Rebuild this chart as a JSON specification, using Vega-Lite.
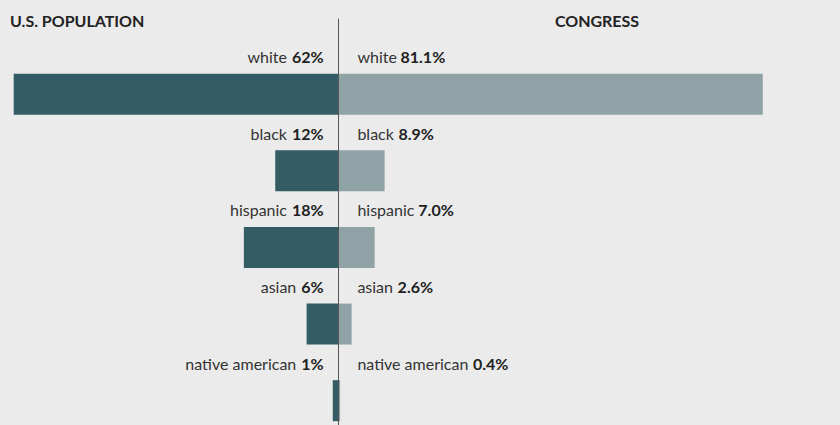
{
  "$schema": "https://vega.github.io/schema/vega-lite/v6.json",
  "background": "#ebebeb",
  "padding": {"top": 14, "left": 0, "right": 0, "bottom": 0},
  "spacing": 0,
  "bounds": "flush",
  "config": {
    "view": {"stroke": null},
    "font": "Lato",
    "title": {"font": "Lato", "fontSize": 16, "fontWeight": "bold", "color": "#222222", "baseline": "alphabetic", "offset": -12, "frame": "group"},
    "text": {"font": "Lato", "fontSize": 16, "baseline": "alphabetic", "color": "#333333"}
  },
  "data": {
    "values": [
      {"body": "U.S. population", "group": "white", "share": 0.62},
      {"body": "U.S. population", "group": "black", "share": 0.12},
      {"body": "U.S. population", "group": "hispanic", "share": 0.18},
      {"body": "U.S. population", "group": "asian", "share": 0.06},
      {"body": "U.S. population", "group": "native american", "share": 0.01},
      {"body": "Congress", "group": "white", "share": 0.811},
      {"body": "Congress", "group": "black", "share": 0.089},
      {"body": "Congress", "group": "hispanic", "share": 0.07},
      {"body": "Congress", "group": "asian", "share": 0.026},
      {"body": "Congress", "group": "native american", "share": 0.004}
    ]
  },
  "hconcat": [
    {
      "width": 338,
      "height": 408,
      "title": {"text": "U.S. POPULATION", "anchor": "start", "dx": 10},
      "transform": [{"filter": "datum.body === 'U.S. population'"}],
      "encoding": {
        "y": {
          "field": "group", "type": "nominal",
          "sort": ["white", "black", "hispanic", "asian", "native american"],
          "axis": null,
          "scale": {"paddingInner": 0.465, "paddingOuter": 0.3956, "align": 0.92}
        }
      },
      "layer": [
        {
          "mark": {"type": "bar", "color": "#335c64"},
          "encoding": {
            "x": {"field": "share", "type": "quantitative", "axis": null, "scale": {"domain": [0, 0.6462], "reverse": true, "nice": false, "zero": true}}
          }
        },
        {
          "mark": {"type": "text", "align": "right", "dx": -14.3, "dy": -31, "fontWeight": "bold", "color": "#222222"},
          "encoding": {
            "x": {"datum": 0, "type": "quantitative"},
            "text": {"field": "share", "type": "quantitative", "format": ".0%"}
          }
        },
        {
          "transform": [{"filter": "datum.share >= 0.1"}],
          "mark": {"type": "text", "align": "right", "dx": -51, "dy": -31},
          "encoding": {
            "x": {"datum": 0, "type": "quantitative"},
            "text": {"field": "group", "type": "nominal"}
          }
        },
        {
          "transform": [{"filter": "datum.share < 0.1"}],
          "mark": {"type": "text", "align": "right", "dx": -41.7, "dy": -31},
          "encoding": {
            "x": {"datum": 0, "type": "quantitative"},
            "text": {"field": "group", "type": "nominal"}
          }
        }
      ]
    },
    {
      "width": 502,
      "height": 408,
      "title": {"text": "CONGRESS", "anchor": "middle", "dx": 8},
      "transform": [{"filter": "datum.body === 'Congress'"}],
      "encoding": {
        "y": {
          "field": "group", "type": "nominal",
          "sort": ["white", "black", "hispanic", "asian", "native american"],
          "axis": {"labels": false, "ticks": false, "title": null, "grid": false, "domain": true, "domainColor": "#555555", "domainWidth": 1, "zindex": 1},
          "scale": {"paddingInner": 0.465, "paddingOuter": 0.3956, "align": 0.92}
        }
      },
      "layer": [
        {
          "mark": {"type": "bar", "color": "#8fa3a6"},
          "encoding": {
            "x": {"field": "share", "type": "quantitative", "axis": null, "scale": {"domain": [0, 0.9584], "nice": false, "zero": true}}
          }
        },
        {
          "mark": {"type": "text", "align": "left", "dx": 19.4, "dy": -31},
          "encoding": {
            "x": {"datum": 0, "type": "quantitative"},
            "text": {"field": "group", "type": "nominal"}
          }
        },
        {
          "transform": [{"filter": "datum.group === 'white'"}],
          "mark": {"type": "text", "align": "left", "dx": 62.5, "dy": -31, "fontWeight": "bold", "color": "#222222"},
          "encoding": {"x": {"datum": 0, "type": "quantitative"}, "text": {"field": "share", "type": "quantitative", "format": ".1%"}}
        },
        {
          "transform": [{"filter": "datum.group === 'black'"}],
          "mark": {"type": "text", "align": "left", "dx": 60.5, "dy": -31, "fontWeight": "bold", "color": "#222222"},
          "encoding": {"x": {"datum": 0, "type": "quantitative"}, "text": {"field": "share", "type": "quantitative", "format": ".1%"}}
        },
        {
          "transform": [{"filter": "datum.group === 'hispanic'"}],
          "mark": {"type": "text", "align": "left", "dx": 80.3, "dy": -31, "fontWeight": "bold", "color": "#222222"},
          "encoding": {"x": {"datum": 0, "type": "quantitative"}, "text": {"field": "share", "type": "quantitative", "format": ".1%"}}
        },
        {
          "transform": [{"filter": "datum.group === 'asian'"}],
          "mark": {"type": "text", "align": "left", "dx": 59.6, "dy": -31, "fontWeight": "bold", "color": "#222222"},
          "encoding": {"x": {"datum": 0, "type": "quantitative"}, "text": {"field": "share", "type": "quantitative", "format": ".1%"}}
        },
        {
          "transform": [{"filter": "datum.group === 'native american'"}],
          "mark": {"type": "text", "align": "left", "dx": 135, "dy": -31, "fontWeight": "bold", "color": "#222222"},
          "encoding": {"x": {"datum": 0, "type": "quantitative"}, "text": {"field": "share", "type": "quantitative", "format": ".1%"}}
        }
      ]
    }
  ]
}
